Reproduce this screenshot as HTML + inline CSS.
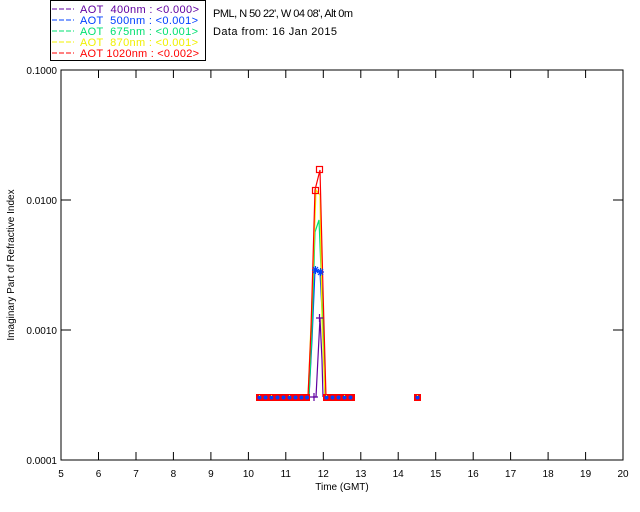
<!DOCTYPE html>
<html><head><style>
body{margin:0;background:#fff;}
svg{display:block;font-family:"Liberation Sans",sans-serif;}
</style></head><body>
<svg width="640" height="512" viewBox="0 0 640 512">
<rect width="640" height="512" fill="#fff"/>
<!-- legend -->
<rect x="50.5" y="0.5" width="155" height="60" fill="#fff" stroke="#000"/>
<g font-size="11">
<line x1="52" y1="9" x2="74" y2="9" stroke="#6000a0" stroke-dasharray="5,2"/>
<text x="80" y="13" fill="#6000a0" textLength="119" xml:space="preserve">AOT  400nm : &lt;0.000&gt;</text>
<line x1="52" y1="20" x2="74" y2="20" stroke="#0040ff" stroke-dasharray="5,2"/>
<text x="80" y="24" fill="#0040ff" textLength="118" xml:space="preserve">AOT  500nm : &lt;0.001&gt;</text>
<line x1="52" y1="31" x2="74" y2="31" stroke="#00e070" stroke-dasharray="5,2"/>
<text x="80" y="35" fill="#00e070" textLength="118" xml:space="preserve">AOT  675nm : &lt;0.001&gt;</text>
<line x1="52" y1="42" x2="74" y2="42" stroke="#f0f000" stroke-dasharray="5,2"/>
<text x="80" y="46" fill="#f0f000" textLength="118" xml:space="preserve">AOT  870nm : &lt;0.001&gt;</text>
<line x1="52" y1="53" x2="74" y2="53" stroke="#ff0000" stroke-dasharray="5,2"/>
<text x="80" y="57" fill="#ff0000" textLength="119" xml:space="preserve">AOT 1020nm : &lt;0.002&gt;</text>
<text x="213" y="17" fill="#000" textLength="140">PML, N 50 22', W 04 08', Alt 0m</text>
<text x="213" y="35" fill="#000" textLength="124">Data from: 16 Jan 2015</text>
</g>
<!-- axes -->
<rect x="61" y="70" width="562" height="390" fill="none" stroke="#000"/>
<g stroke="#000">
<line x1="61" y1="200" x2="71" y2="200"/><line x1="61" y1="330" x2="71" y2="330"/>
<line x1="613" y1="200" x2="623" y2="200"/><line x1="613" y1="330" x2="623" y2="330"/>
</g>
<g font-size="10" text-anchor="end">
<text x="57" y="74">0.1000</text><text x="57" y="204">0.0100</text>
<text x="57" y="334">0.0010</text><text x="57" y="464">0.0001</text>
</g>
<g stroke="#000">
<line x1="98.5" y1="460" x2="98.5" y2="452"/><line x1="136" y1="460" x2="136" y2="452"/>
<line x1="173.4" y1="460" x2="173.4" y2="452"/><line x1="210.9" y1="460" x2="210.9" y2="452"/>
<line x1="248.4" y1="460" x2="248.4" y2="452"/><line x1="285.8" y1="460" x2="285.8" y2="452"/>
<line x1="323.3" y1="460" x2="323.3" y2="452"/><line x1="360.8" y1="460" x2="360.8" y2="452"/>
<line x1="398.2" y1="460" x2="398.2" y2="452"/><line x1="435.7" y1="460" x2="435.7" y2="452"/>
<line x1="473.2" y1="460" x2="473.2" y2="452"/><line x1="510.6" y1="460" x2="510.6" y2="452"/>
<line x1="548.1" y1="460" x2="548.1" y2="452"/><line x1="585.6" y1="460" x2="585.6" y2="452"/>
<line x1="98.5" y1="70" x2="98.5" y2="78"/><line x1="136" y1="70" x2="136" y2="78"/>
<line x1="173.4" y1="70" x2="173.4" y2="78"/><line x1="210.9" y1="70" x2="210.9" y2="78"/>
<line x1="248.4" y1="70" x2="248.4" y2="78"/><line x1="285.8" y1="70" x2="285.8" y2="78"/>
<line x1="323.3" y1="70" x2="323.3" y2="78"/><line x1="360.8" y1="70" x2="360.8" y2="78"/>
<line x1="398.2" y1="70" x2="398.2" y2="78"/><line x1="435.7" y1="70" x2="435.7" y2="78"/>
<line x1="473.2" y1="70" x2="473.2" y2="78"/><line x1="510.6" y1="70" x2="510.6" y2="78"/>
<line x1="548.1" y1="70" x2="548.1" y2="78"/><line x1="585.6" y1="70" x2="585.6" y2="78"/>
</g>
<g font-size="10" text-anchor="middle">
<text x="61" y="477">5</text><text x="98.5" y="477">6</text><text x="136" y="477">7</text>
<text x="173.4" y="477">8</text><text x="210.9" y="477">9</text><text x="248.4" y="477">10</text>
<text x="285.8" y="477">11</text><text x="323.3" y="477">12</text><text x="360.8" y="477">13</text>
<text x="398.2" y="477">14</text><text x="435.7" y="477">15</text><text x="473.2" y="477">16</text>
<text x="510.6" y="477">17</text><text x="548.1" y="477">18</text><text x="585.6" y="477">19</text>
<text x="623" y="477">20</text>
<text x="342" y="490">Time (GMT)</text>
<text transform="translate(14,265) rotate(-90)">Imaginary Part of Refractive Index</text>
</g>
<!-- series -->
<g fill="none" stroke-width="1.2">
<polyline stroke="#6000a0" points="313,397 316,397 320,318 322,360 323,397"/>
<polyline stroke="#0040ff" points="309,397 312,340 315,270 320,272 323,330 325,397"/>
<polyline stroke="#00e070" points="309,397 312,330 315,232 319,220 323,320 325,397"/>
<polyline stroke="#f0f000" points="308,397 312,300 316,190 320,195 322,320 325,397"/>
<polyline stroke="#ff0000" points="308,397 311,330 315,190 320,170 323,290 326,397"/>
</g>
<g stroke="#ff0000" fill="none" stroke-width="1.2">
<rect x="316.5" y="166.5" width="6" height="6"/><rect x="312.5" y="187.5" width="6" height="6"/>
</g>
<g stroke="#0040ff" stroke-width="1.2">
<path d="M312,270h7M315.5,266v8M313,267l5,6M318,267l-5,6"/>
<path d="M317,272h7M320.5,268v8M318,269l5,6M323,269l-5,6"/>
</g>
<path d="M316,318h7M319.5,314v8M310,397h8M314,393v8" stroke="#6000a0" stroke-width="1.2"/>
<!-- baseline markers -->
<g fill="#ff0000">
<rect x="256" y="394" width="54" height="7"/>
<rect x="323" y="394" width="32" height="7"/>
<rect x="414" y="394" width="7" height="7"/>
</g>
<g fill="#0040ff">
<circle cx="259.5" cy="397.5" r="2"/><circle cx="265.5" cy="397.5" r="2"/><circle cx="271.5" cy="397.5" r="2"/>
<circle cx="277.5" cy="397.5" r="2"/><circle cx="283.5" cy="397.5" r="2"/><circle cx="289.5" cy="397.5" r="2"/>
<circle cx="295.5" cy="397.5" r="2"/><circle cx="301.5" cy="397.5" r="2"/><circle cx="307" cy="397.5" r="2"/>
<circle cx="326.5" cy="397.5" r="2"/><circle cx="332.5" cy="397.5" r="2"/><circle cx="338.5" cy="397.5" r="2"/>
<circle cx="344.5" cy="397.5" r="2"/><circle cx="350.5" cy="397.5" r="2"/><circle cx="417.5" cy="397.5" r="2"/>
</g>
<g fill="#f0f000">
<rect x="259" y="395" width="1" height="1"/><rect x="271" y="395" width="1" height="1"/>
<rect x="289" y="395" width="1" height="1"/><rect x="326" y="395" width="1" height="1"/>
<rect x="344" y="395" width="1" height="1"/><rect x="417" y="395" width="1" height="1"/>
</g>
</svg>
</body></html>
